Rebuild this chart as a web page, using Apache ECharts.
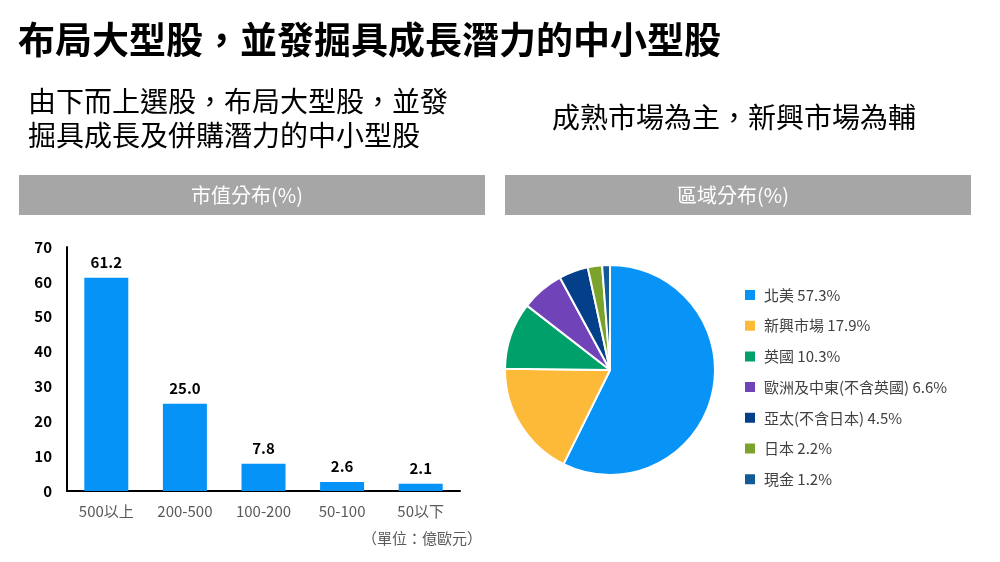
<!DOCTYPE html>
<html>
<head>
<meta charset="utf-8">
<script src="https://cdn.jsdelivr.net/npm/echarts@6/dist/echarts.min.js"></script>
<style>
  html, body { margin: 0; padding: 0; background: #fff; }
  #main { width: 1000px; height: 562px; }
</style>
</head>
<body>
<div id="main"></div>
<script>
  // 市值分布 (%)
  const capCategories = ['500以上', '200-500', '100-200', '50-100', '50以下'];
  const capValues = [61.2, 25.0, 7.8, 2.6, 2.1];

  // 區域分布 (%)
  const regionNames = ['北美', '新興市場', '英國', '歐洲及中東(不含英國)', '亞太(不含日本)', '日本', '現金'];
  const regionValues = [57.3, 17.9, 10.3, 6.6, 4.5, 2.2, 1.2];
  const regionColors = ['#0894f7', '#fdba38', '#00a06b', '#7043b9', '#044089', '#7ba32c', '#125a98'];

  const FONT = '"Noto Sans CJK TC", "Noto Sans", sans-serif';

  const chart = echarts.init(document.getElementById('main'));

  const option = {
    backgroundColor: '#fff',
    textStyle: { fontFamily: FONT },
    graphic: [
      // 主標題
      { type: 'text', left: 18, top: 21, style: { text: '布局大型股，並發掘具成長潛力的中小型股', font: 'bold 37px ' + FONT, fill: '#000' } },
      // 左側說明
      { type: 'text', left: 28, top: 84, style: { text: '由下而上選股，布局大型股，並發\n掘具成長及併購潛力的中小型股', font: '28px ' + FONT, fill: '#000', lineHeight: 34 } },
      // 右側說明
      { type: 'text', left: 552, top: 103, style: { text: '成熟市場為主，新興市場為輔', font: '28px ' + FONT, fill: '#000' } },
      // 灰色標題列
      { type: 'rect', shape: { x: 19, y: 175, width: 466, height: 40 }, style: { fill: '#a6a6a6' } },
      { type: 'rect', shape: { x: 505, y: 175, width: 466, height: 40 }, style: { fill: '#a6a6a6' } },
      { type: 'text', x: 247, y: 195, style: { text: '市值分布(%)', font: '20px ' + FONT, fill: '#fff', align: 'center', verticalAlign: 'middle' } },
      { type: 'text', x: 733, y: 195, style: { text: '區域分布(%)', font: '20px ' + FONT, fill: '#fff', align: 'center', verticalAlign: 'middle' } },
      // 單位
      { type: 'text', x: 482, y: 538, style: { text: '（單位：億歐元）', font: '15px ' + FONT, fill: '#595959', align: 'right', verticalAlign: 'middle' } }
    ],
    grid: { left: 67, top: 247, width: 393, height: 244 },
    xAxis: {
      type: 'category',
      data: capCategories,
      axisLine: { lineStyle: { color: '#000', width: 2 } },
      axisTick: { show: false },
      axisLabel: { color: '#595959', fontSize: 15, margin: 13 }
    },
    yAxis: {
      type: 'value',
      min: 0,
      max: 70,
      interval: 10,
      axisLine: { show: true, lineStyle: { color: '#000', width: 2 } },
      axisTick: { show: false },
      splitLine: { show: false },
      axisLabel: { color: '#000', fontSize: 15, fontWeight: 'bold', margin: 15 }
    },
    legend: {
      orient: 'vertical',
      left: 738,
      top: 282,
      icon: 'rect',
      itemWidth: 12,
      itemHeight: 12,
      itemGap: 14.7,
      selectedMode: false,
      data: regionNames,
      formatter: function (name) {
        const i = regionNames.indexOf(name);
        return name + ' ' + regionValues[i].toFixed(1) + '%';
      },
      textStyle: { color: '#404040', fontSize: 15, lineHeight: 16, padding: [0, 0, 0, 3] }
    },
    series: [
      {
        type: 'bar',
        data: capValues,
        barWidth: 44,
        itemStyle: { color: '#0693f7' },
        label: {
          show: true,
          position: 'top',
          distance: 8,
          color: '#000',
          fontSize: 15,
          fontWeight: 'bold',
          formatter: function (p) { return p.value.toFixed(1); }
        }
      },
      {
        type: 'pie',
        center: [610, 370],
        radius: 105,
        startAngle: 90,
        clockwise: true,
        label: { show: false },
        labelLine: { show: false },
        emphasis: { disabled: true },
        itemStyle: { borderColor: '#fff', borderWidth: 2 },
        data: regionNames.map(function (n, i) {
          return { name: n, value: regionValues[i], itemStyle: { color: regionColors[i] } };
        })
      }
    ]
  };

  chart.setOption(option);
</script>
</body>
</html>
